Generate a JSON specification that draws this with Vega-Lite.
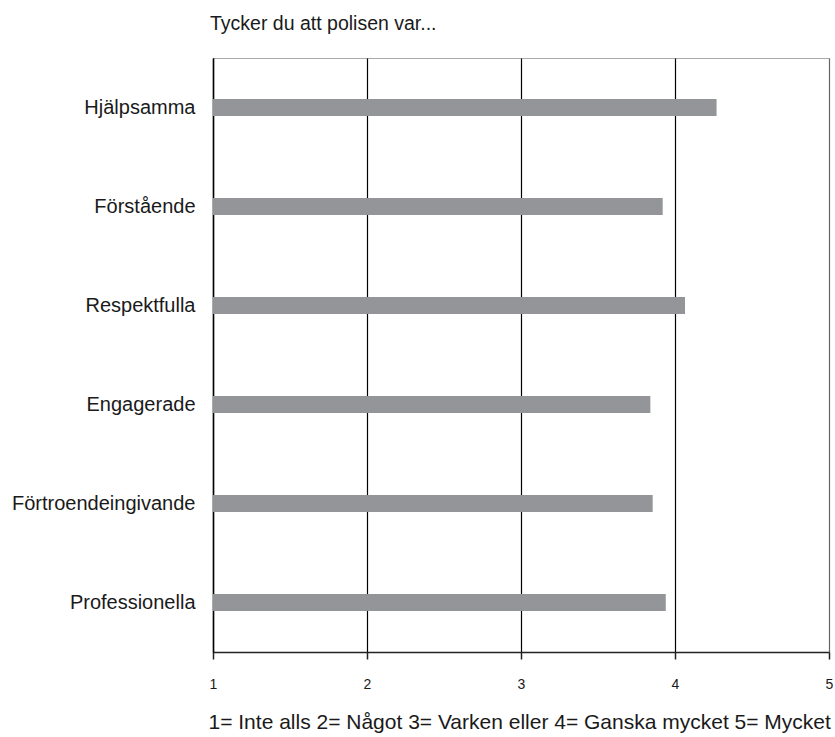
{
  "$schema": "https://vega.github.io/schema/vega-lite/v6.json",
  "autosize": "none",
  "width": 616,
  "height": 594,
  "padding": {"left": 213, "top": 58, "right": 6, "bottom": 85},
  "background": "white",
  "config": {
    "font": "Liberation Sans",
    "view": {"stroke": "#aaaaaa", "strokeWidth": 1}
  },
  "title": {
    "text": "Tycker du att polisen var...",
    "anchor": "start",
    "frame": "group",
    "dx": -3,
    "offset": 24,
    "fontSize": 19.5,
    "fontWeight": "normal",
    "color": "#1a1a1a",
    "font": "Liberation Sans"
  },
  "data": {
    "values": [
      {"item": "Hjälpsamma", "value": 4.27},
      {"item": "Förstående", "value": 3.92},
      {"item": "Respektfulla", "value": 4.065},
      {"item": "Engagerade", "value": 3.84},
      {"item": "Förtroendeingivande", "value": 3.855},
      {"item": "Professionella", "value": 3.94}
    ]
  },
  "mark": {"type": "bar", "color": "#939598", "size": 17},
  "encoding": {
    "y": {
      "field": "item",
      "type": "nominal",
      "sort": null,
      "scale": {"paddingInner": 0, "paddingOuter": 0},
      "axis": {
        "title": null,
        "domainColor": "black",
        "domainWidth": 1.5,
        "ticks": false,
        "labelPadding": 18,
        "labelFontSize": 20,
        "labelColor": "#1a1a1a",
        "labelLimit": 300
      }
    },
    "x": {
      "field": "value",
      "type": "quantitative",
      "scale": {"domain": [1, 5], "nice": false, "zero": false},
      "axis": {
        "values": [1, 2, 3, 4, 5],
        "title": "1= Inte alls 2= Något 3= Varken eller 4= Ganska mycket 5= Mycket",
        "titleFontSize": 21,
        "titleFontWeight": "normal",
        "titleColor": "#1a1a1a",
        "titlePadding": 20,
        "titleAnchor": "start",
        "titleX": -5,
        "domainColor": "#222222",
        "domainWidth": 1.5,
        "tickColor": "#222222",
        "tickSize": 7,
        "tickWidth": 1.5,
        "labelFontSize": 14,
        "labelPadding": 18,
        "labelColor": "#1a1a1a",
        "labelFlush": false,
        "grid": true,
        "gridColor": {"condition": {"test": "datum.value == 5", "value": "#666666"}, "value": "black"},
        "gridWidth": 1.2
      }
    },
    "x2": {"datum": 1}
  }
}
